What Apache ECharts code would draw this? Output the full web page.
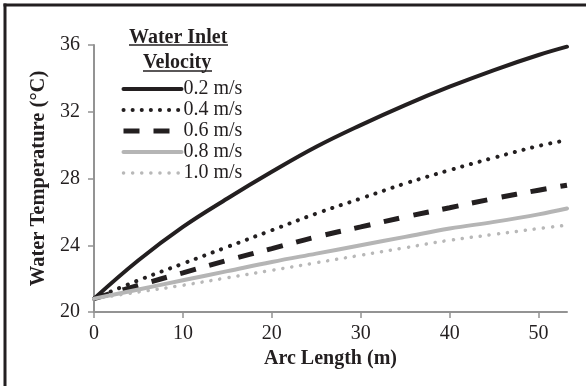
<!DOCTYPE html>
<html>
<head>
<meta charset="utf-8">
<script src="https://cdn.jsdelivr.net/npm/echarts@6/dist/echarts.min.js"></script>
<style>
  html, body { margin: 0; padding: 0; background: #fff; overflow: hidden; }
  #chart { width: 586px; height: 386px; }
</style>
</head>
<body>
<div id="chart"></div>
<script>
// arc length (m) sampled along each curve
const arcLength = [0, 5, 10, 15, 20, 25, 30, 35, 40, 45, 50, 53.2];
// water temperature (°C) for each inlet velocity
const temp02 = [20.8, 23.1, 25.1, 26.8, 28.4, 29.9, 31.2, 32.4, 33.5, 34.5, 35.4, 35.9];
const temp04 = [20.8, 21.9, 22.9, 23.9, 24.9, 25.9, 26.8, 27.7, 28.5, 29.25, 29.95, 30.3];
const temp06 = [20.8, 21.6, 22.35, 23.1, 23.8, 24.5, 25.1, 25.7, 26.25, 26.8, 27.3, 27.6];
const temp08 = [20.8, 21.35, 21.9, 22.45, 23.0, 23.5, 24.0, 24.5, 25.0, 25.4, 25.85, 26.2];
const temp10 = [20.8, 21.2, 21.6, 22.05, 22.5, 22.95, 23.4, 23.85, 24.3, 24.65, 25.0, 25.2];
const velocities = ["0.2 m/s", "0.4 m/s", "0.6 m/s", "0.8 m/s", "1.0 m/s"];
const xTicks = [0, 10, 20, 30, 40, 50];

const font = "'Liberation Serif', 'Times New Roman', serif";
const ink = "#231f20";
const axisGray = "#939393";

const pairs = (ys) => arcLength.map((x, i) => [x, ys[i]]);

// line look for every series
const styles = [
    { color: ink, width: 4, type: "solid", cap: "round" },
    { color: ink, width: 4, type: [0.1, 9], cap: "round" },
    { color: ink, width: 5, type: [16, 14], cap: "butt" },
    { color: "#b5b5b5", width: 4, type: "solid", cap: "round" },
    { color: "#b8b8b8", width: 3.5, type: [0.1, 9], cap: "round" },
];
const allTemps = [temp02, temp04, temp06, temp08, temp10];

const chart = echarts.init(document.getElementById("chart"));

chart.setOption({
    animation: false,
    grid: { left: 94, top: 45, width: 473, height: 267 },
    xAxis: {
        type: "value",
        min: 0,
        max: 53.2,
        name: "Arc Length (m)",
        nameLocation: "middle",
        nameGap: 37,
        nameTextStyle: { fontFamily: font, fontSize: 20, fontWeight: "bold", color: ink },
        axisLine: { lineStyle: { color: axisGray, width: 2 } },
        axisTick: { show: true, length: 6, lineStyle: { color: axisGray, width: 1.5 }, customValues: xTicks },
        axisLabel: { fontFamily: font, fontSize: 20, color: ink, margin: 12, customValues: xTicks },
        splitLine: { show: false },
    },
    yAxis: {
        type: "value",
        min: 20,
        max: 36,
        interval: 4,
        name: "Water Temperature (°C)",
        nameLocation: "middle",
        nameGap: 45,
        nameTextStyle: { fontFamily: font, fontSize: 20.5, fontWeight: "bold", color: ink },
        axisLine: { show: true, lineStyle: { color: axisGray, width: 2 } },
        axisTick: { show: true, length: 6, lineStyle: { color: axisGray, width: 1.5 } },
        axisLabel: { fontFamily: font, fontSize: 20, color: ink, margin: 14 },
        splitLine: { show: false },
    },
    legend: {
        orient: "vertical",
        left: 116,
        top: 74,
        itemWidth: 58,
        itemHeight: 14,
        itemGap: 1,
        data: velocities,
        itemStyle: { opacity: 0 },
        lineStyle: { width: "inherit", type: "inherit", cap: "inherit" },
        textStyle: { fontFamily: font, fontSize: 20, color: ink, padding: [0, 0, 0, -3] },
    },
    graphic: [
        // outer frame (only top and left edges fall inside the picture)
        { type: "line", shape: { x1: 3.5, y1: 5, x2: 586, y2: 5 }, style: { stroke: ink, lineWidth: 3 }, z: 10 },
        { type: "line", shape: { x1: 5, y1: 3.5, x2: 5, y2: 386 }, style: { stroke: ink, lineWidth: 3 }, z: 10 },
        { type: "text", left: 129, top: 28, style: { text: "Water Inlet", font: "bold 20px " + font, fill: ink } },
        { type: "line", shape: { x1: 129, y1: 45, x2: 228, y2: 45 }, style: { stroke: ink, lineWidth: 1.5 } },
        { type: "text", left: 143, top: 53, style: { text: "Velocity", font: "bold 20px " + font, fill: ink } },
        { type: "line", shape: { x1: 143, y1: 71, x2: 212, y2: 71 }, style: { stroke: ink, lineWidth: 1.5 } },
    ],
    series: allTemps.map((ys, i) => ({
        name: velocities[i],
        type: "line",
        data: pairs(ys),
        smooth: 0.4,
        showSymbol: false,
        symbol: "none",
        color: styles[i].color,
        lineStyle: { color: styles[i].color, width: styles[i].width, type: styles[i].type, cap: styles[i].cap },
    })),
});
</script>
</body>
</html>
